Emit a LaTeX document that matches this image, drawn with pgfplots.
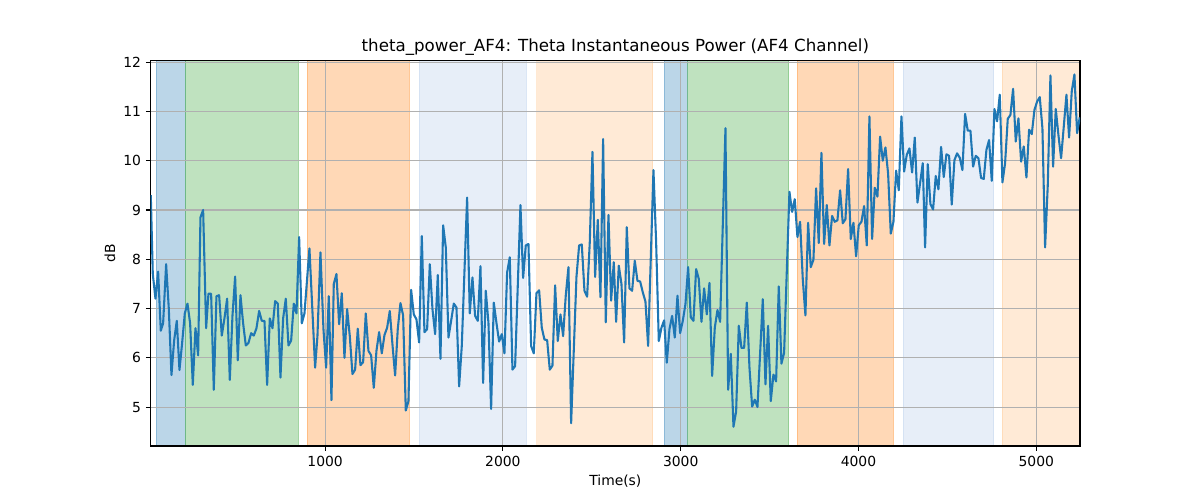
\documentclass[border=0pt]{standalone}
\usepackage{fontspec}
\setmainfont{DejaVu Sans}
\usepackage{pgfplots}
\pgfplotsset{compat=1.18}
\definecolor{tabblue}{HTML}{1F77B4}
\definecolor{tabltblue}{HTML}{AEC7E8}
\definecolor{taborange}{HTML}{FF7F0E}
\definecolor{tabltorange}{HTML}{FFBB78}
\definecolor{tabgreen}{HTML}{2CA02C}
\definecolor{gridgray}{HTML}{B0B0B0}
\begin{document}
\begin{tikzpicture}
\begin{axis}[
  set layers,
  at={(108.5pt,38.9pt)}, anchor=south west,
  scale only axis, width=669.1pt, height=277.4pt,
  xmin=19, xmax=5246, ymin=4.21, ymax=12.03,
  xtick={1000,2000,3000,4000,5000},
  ytick={5,6,7,8,9,10,11,12},
  tick pos=left, tick align=outside,
  major tick length=3.5pt,
  every tick/.style={black, line width=0.8pt},
  axis line style={black, line width=0.8pt},
  grid=major,
  major grid style={gridgray, line width=0.8pt},
  /pgf/number format/assume math mode=true,
  /pgf/number format/set thousands separator={},
  ticklabel style={font=\fontsize{10}{12}\selectfont},
  xlabel={Time(s)}, ylabel={dB},
  label style={font=\fontsize{10}{12}\selectfont},
  xlabel style={at={(axis description cs:0.5,-0.0908)}, anchor=center},
  ylabel style={at={(axis description cs:-0.0438,0.5)}, anchor=center},
  title={theta\_power\_AF4: Theta Instantaneous Power (AF4 Channel)},
  title style={font=\fontsize{12}{14}\selectfont, at={(axis description cs:0.5,1)}, anchor=south, yshift=-5.5pt},
  span/.style={on layer=axis background, draw=#1, fill=#1, opacity=0.3, line width=0.7pt},
]
\addplot[span=tabblue] coordinates {(50,4.21) (213,4.21) (213,12.03) (50,12.03) (50,4.21)};
\addplot[span=tabgreen] coordinates {(213,4.21) (851,4.21) (851,12.03) (213,12.03) (213,4.21)};
\addplot[span=taborange] coordinates {(899,4.21) (1476,4.21) (1476,12.03) (899,12.03) (899,4.21)};
\addplot[span=tabltblue] coordinates {(1529,4.21) (2134,4.21) (2134,12.03) (1529,12.03) (1529,4.21)};
\addplot[span=tabltorange] coordinates {(2191,4.21) (2843,4.21) (2843,12.03) (2191,12.03) (2191,4.21)};
\addplot[span=tabblue] coordinates {(2907,4.21) (3038,4.21) (3038,12.03) (2907,12.03) (2907,4.21)};
\addplot[span=tabgreen] coordinates {(3038,4.21) (3608,4.21) (3608,12.03) (3038,12.03) (3038,4.21)};
\addplot[span=taborange] coordinates {(3655,4.21) (4198,4.21) (4198,12.03) (3655,12.03) (3655,4.21)};
\addplot[span=tabltblue] coordinates {(4251,4.21) (4762,4.21) (4762,12.03) (4251,12.03) (4251,4.21)};
\addplot[span=tabltorange] coordinates {(4808,4.21) (5246,4.21) (5246,12.03) (4808,12.03) (4808,4.21)};
\addplot[tabblue, line width=1.5pt, mark=none, line join=round] coordinates {
(19.5,9.3)(30.8,7.7)(45.8,7.2)(60.8,7.75)(75.8,6.55)(88.9,6.7)(105.8,7.9)(120.8,7.0)(135.8,5.65)(150.8,6.35)
(165.8,6.75)(180.8,5.75)(195.8,6.3)(210.8,6.9)(225.8,7.1)(240.8,6.7)(255.8,5.45)(270.8,6.6)(285.8,6.05)(298.9,8.85)
(313.9,9.0)(330.8,6.6)(343.9,7.3)(358.9,7.3)(373.9,5.35)(388.9,7.25)(403.9,7.27)(418.9,6.45)(433.9,6.8)(448.9,7.2)
(463.9,5.55)(478.9,6.85)(493.9,7.65)(508.9,5.95)(523.9,7.27)(538.9,6.7)(553.9,6.25)(568.9,6.3)(583.9,6.5)(598.9,6.45)
(613.9,6.6)(628.9,6.95)(643.9,6.75)(658.9,6.75)(673.9,5.45)(688.9,6.8)(703.9,6.6)(718.9,7.15)(733.9,7.1)(748.9,5.6)
(763.9,6.8)(778.9,7.2)(793.9,6.25)(808.9,6.35)(823.9,7.1)(838.9,6.9)(853.9,8.45)(868.9,6.7)(883.9,6.9)
(911.9,8.22)(943.8,5.8)(956.9,6.44)(973.8,8.14)(990.7,6.58)(1005.7,5.8)(1020.7,7.25)(1035.7,5.14)(1048.8,7.5)(1063.8,7.7)
(1078.8,6.68)(1093.8,7.31)(1108.8,6.0)(1123.8,6.99)(1138.8,6.44)(1153.8,5.67)(1168.8,5.76)(1183.8,6.59)(1198.8,5.85)(1213.8,5.91)
(1228.8,6.9)(1243.8,6.14)(1258.8,6.05)(1273.8,5.39)(1288.8,6.14)(1303.8,6.52)(1318.8,6.09)(1333.8,6.46)(1348.8,6.61)(1363.8,6.95)
(1378.8,6.27)(1393.8,5.64)(1408.8,6.59)(1423.8,7.11)(1438.8,6.86)(1453.8,4.93)(1468.8,5.12)(1483.8,7.38)(1498.8,6.88)(1513.8,6.78)
(1528.8,6.31)(1543.8,8.47)(1558.8,6.52)(1573.8,6.58)(1588.8,7.9)(1603.8,6.99)(1618.8,6.48)(1633.8,7.68)(1648.8,5.98)(1663.8,8.69)
(1678.8,8.24)(1693.8,6.41)(1708.8,6.75)(1723.8,7.1)(1738.8,7.02)(1753.8,5.42)
(1768.7,6.24)(1798.7,9.25)(1813.7,6.9)(1828.7,7.63)(1843.7,6.85)(1858.7,6.75)(1873.7,7.86)(1888.7,5.49)(1903.7,7.36)(1918.7,6.71)
(1933.7,4.96)(1948.7,7.12)(1963.7,6.71)(1978.7,6.33)(1993.7,6.48)(2008.7,6.09)(2023.7,7.73)(2038.7,8.04)(2053.7,5.76)(2068.7,5.83)
(2098.7,9.1)(2113.7,7.62)(2128.7,8.28)(2143.7,8.31)(2158.7,6.24)(2173.7,6.09)(2188.7,7.31)(2203.7,7.37)(2218.7,6.61)(2233.7,6.37)
(2248.7,6.36)(2263.7,5.76)(2278.7,5.84)(2293.7,7.47)(2308.7,6.34)(2323.7,6.88)(2338.7,6.44)(2353.7,7.27)(2368.7,7.84)(2383.7,4.67)
(2413.7,7.64)(2428.7,8.28)(2443.7,8.3)(2458.7,7.36)(2473.7,7.24)(2488.7,8.35)(2503.7,10.18)(2518.7,7.64)(2533.7,8.8)(2548.7,7.23)
(2563.7,10.44)(2578.7,6.72)(2593.7,8.9)(2608.7,7.16)(2623.7,7.94)
(2636.8,6.73)(2651.8,7.87)(2666.8,7.5)(2681.8,6.31)(2696.8,8.65)(2711.8,7.41)(2726.8,7.36)(2741.8,7.97)(2756.8,7.56)(2771.8,7.55)
(2786.8,7.33)(2801.8,7.14)(2816.8,6.24)(2846.8,9.81)(2861.8,8.35)(2876.8,6.34)(2891.8,6.61)(2906.8,6.76)(2921.8,5.9)(2936.8,6.58)
(2951.8,6.85)(2966.8,6.41)(2981.8,7.26)(2996.8,6.5)(3011.8,6.75)(3026.8,7.09)(3041.8,7.84)(3056.8,6.82)(3071.8,6.75)(3086.8,7.8)
(3101.8,7.6)(3116.8,6.73)(3131.8,7.41)(3146.8,6.88)(3161.8,7.52)(3176.8,5.63)(3191.8,6.61)(3206.8,6.97)(3221.8,6.73)(3251.8,10.66)
(3266.8,5.35)(3281.8,6.08)(3296.8,4.6)(3311.8,4.91)(3326.8,6.65)(3341.8,6.2)(3356.8,6.2)(3371.8,7.12)(3386.8,5.8)(3401.8,5.01)
(3416.8,5.15)(3431.8,5.0)(3446.8,6.1)(3461.8,7.19)(3476.8,5.46)
(3491.6,6.65)(3506.6,5.12)(3521.6,5.66)(3536.6,5.52)(3551.6,7.45)(3566.6,5.88)(3581.6,6.1)(3611.6,9.37)(3626.6,8.96)(3641.6,9.22)
(3656.6,8.45)(3671.6,8.76)(3686.6,7.6)(3701.6,6.86)(3716.6,8.74)(3731.6,7.84)(3746.6,7.99)(3761.6,9.44)(3776.6,8.33)(3791.6,10.16)
(3806.6,8.31)(3821.6,9.1)(3836.6,8.28)(3851.6,8.88)(3866.6,8.76)(3881.6,8.79)(3896.6,9.4)(3911.6,8.73)(3926.6,8.81)(3941.6,9.83)
(3956.6,8.41)(3971.6,8.74)(3986.6,8.06)(4001.6,8.69)(4016.6,8.76)(4031.6,9.08)(4046.6,8.28)(4061.6,10.9)(4076.6,8.41)(4091.6,9.45)
(4106.6,9.27)(4121.6,10.49)(4136.6,10.0)(4151.6,10.27)(4166.6,9.74)(4181.6,8.52)(4196.6,8.76)(4211.6,9.8)(4226.6,9.4)(4241.6,10.9)
(4256.6,9.78)(4271.6,10.12)(4286.6,10.25)(4301.6,9.76)(4316.6,10.47)(4331.6,9.15)(4346.6,9.55)(4361.6,9.95)
(4374.6,8.24)(4389.6,9.93)(4404.6,9.12)(4419.6,9.01)(4434.6,9.69)(4449.6,9.42)(4464.6,10.28)(4479.6,9.67)(4494.6,10.13)(4509.6,10.1)
(4524.6,9.11)(4539.6,10.01)(4554.6,10.15)(4569.6,10.06)(4584.6,9.81)(4599.6,10.95)(4614.6,10.61)(4629.6,10.61)(4644.6,9.88)(4659.6,10.1)
(4674.6,10.05)(4689.6,9.65)(4704.6,9.63)(4719.6,10.22)(4734.6,10.42)(4749.6,9.59)(4764.6,11.05)(4779.6,10.8)(4794.6,11.34)(4809.6,9.56)
(4824.6,9.95)(4839.6,10.85)(4854.6,10.93)(4869.6,11.46)(4884.6,10.39)(4899.6,10.86)(4914.6,9.98)(4929.6,10.29)(4944.6,9.66)(4959.6,10.63)
(4974.6,10.54)(4989.6,11.03)(5004.6,11.2)(5019.6,11.29)(5034.6,10.66)(5049.6,8.24)(5064.6,9.5)(5079.6,11.73)(5094.6,9.88)(5109.6,11.05)
(5124.6,10.52)(5139.6,10.05)(5154.6,10.69)(5169.6,11.34)(5184.6,10.47)(5199.6,11.41)(5214.6,11.75)(5229.6,10.56)(5244.6,10.88)
};
\end{axis}
\path (0,0) rectangle (864pt,360pt);
\end{tikzpicture}
\end{document}
